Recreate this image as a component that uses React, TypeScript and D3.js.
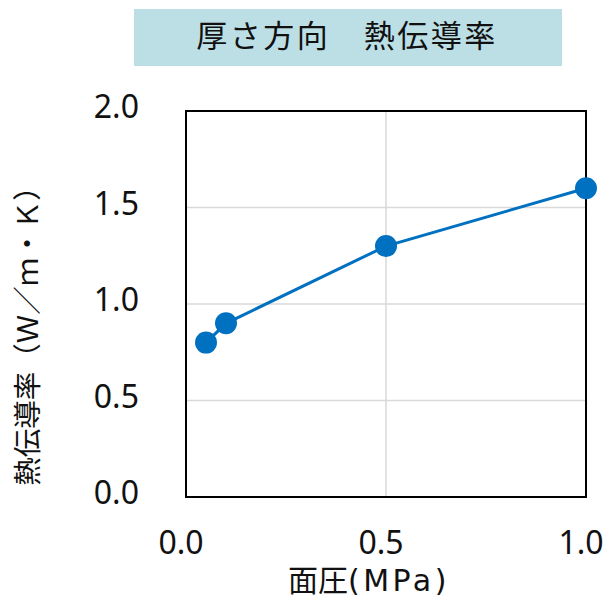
import React from "react";
import * as d3 from "d3";

const pressures = [0.05, 0.1, 0.5, 1.0];
const conductivity = [0.8, 0.9, 1.3, 1.6];
const yTicks = [0, 0.5, 1.0, 1.5, 2.0];
const xTicks = [0, 0.5, 1.0];
const titleText = "厚さ方向　熱伝導率";
const xLabelKanji = "面圧";
const xLabelUnit = "(MPa)";
const yLabel = "熱伝導率（Ｗ／ｍ・Ｋ）";

export default function App() {
  const W = 607, H = 600;
  const left = 186, right = 586, top = 111, bottom = 497;
  const x = d3.scaleLinear().domain([0, 1]).range([left, right]);
  const y = d3.scaleLinear().domain([0, 2]).range([bottom, top]);
  const pts = pressures.map((p, i) => [p, conductivity[i]] as [number, number]);
  const line = d3.line<[number, number]>().x(d => x(d[0])).y(d => y(d[1]));
  const numFont = "'Noto Sans', sans-serif";
  const jpFont = "'Noto Sans CJK JP', sans-serif";
  const latFont = "'DejaVu Sans', 'Noto Sans CJK JP', sans-serif";
  return (
    <svg width={W} height={H} style={{ position: "absolute", left: 0, top: 0, background: "#fff" }}>
      <rect x={134} y={9} width={428} height={57} fill="#bcdfe6" />
      <text x={347} y={47} textAnchor="middle" fontSize={31} letterSpacing={2.5} fontFamily={jpFont} fill="#111">{titleText}</text>
      {yTicks.filter(t => t > 0 && t < 2).map(t => (
        <line key={"gy" + t} x1={left} x2={right} y1={y(t)} y2={y(t)} stroke="#d9d9d9" strokeWidth={1.5} />
      ))}
      {xTicks.filter(t => t > 0 && t < 1).map(t => (
        <line key={"gx" + t} x1={x(t)} x2={x(t)} y1={top} y2={bottom} stroke="#d9d9d9" strokeWidth={1.5} />
      ))}
      <rect x={left} y={top} width={right - left} height={bottom - top} fill="none" stroke="#000" strokeWidth={2} />
      {yTicks.map(t => (
        <text key={"ty" + t} x={139} y={y(t) + 7} textAnchor="end" fontSize={32} fontFamily={numFont} fill="#111">{t.toFixed(1)}</text>
      ))}
      {xTicks.map(t => (
        <text key={"tx" + t} x={x(t) - 5} y={554} textAnchor="middle" fontSize={32} fontFamily={numFont} fill="#111">{t.toFixed(1)}</text>
      ))}
      <text x={369} y={591} textAnchor="middle" fontSize={30} fill="#111">
        <tspan fontFamily={jpFont}>{xLabelKanji}</tspan>
        <tspan fontFamily={latFont} letterSpacing={3.5}>{xLabelUnit}</tspan>
      </text>
      <text transform={`translate(38,${(173 + 485) / 2}) rotate(-90)`} textAnchor="middle" fontSize={28.5} fontFamily={jpFont} fill="#111">{yLabel}</text>
      <path d={line(pts) || ""} fill="none" stroke="#0070c0" strokeWidth={3} />
      {pts.map((d, i) => (
        <circle key={i} cx={x(d[0])} cy={y(d[1])} r={11} fill="#0070c0" />
      ))}
    </svg>
  );
}
